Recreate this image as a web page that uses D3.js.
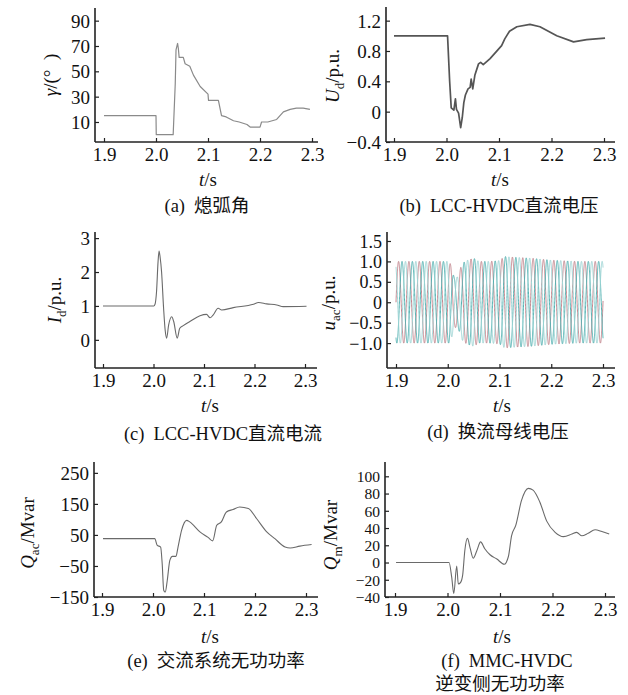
<!DOCTYPE html>
<html>
<head>
<meta charset="utf-8">
<script src="https://cdn.jsdelivr.net/npm/d3@7"></script>
<style>
  body { margin: 0; background: #fff; }
  svg { display: block; }
  text { font-family: "Liberation Serif", "Times New Roman", "Noto Sans CJK SC", serif; fill: #111; }
</style>
</head>
<body>
<div id="wrapper"></div>
<script>
// 1. Data
const xTicks = [1.9, 2.0, 2.1, 2.2, 2.3]

// (a) extinction angle
const gammaTime = [1.9, 2.0, 2.0005, 2.033, 2.0345, 2.037, 2.0385, 2.0415, 2.043, 2.0445, 2.0525, 2.056, 2.065, 2.072, 2.085, 2.1, 2.101, 2.12, 2.126, 2.135, 2.149, 2.16, 2.175, 2.181, 2.2, 2.203, 2.215, 2.232, 2.245, 2.258, 2.27, 2.283, 2.296]
const gammaValue = [15, 15, 0, 0, 15, 40, 67, 72, 68, 61, 61, 56, 54, 47, 38, 32, 27, 27, 15, 14, 11, 10, 8, 6, 6, 10, 10, 12, 18, 20, 21, 21, 20]
const gammaTicks = [10, 30, 50, 70, 90]

// (b) LCC-HVDC dc voltage
const udTime = [1.9, 2.002, 2.006, 2.009, 2.014, 2.017, 2.019, 2.023, 2.027, 2.030, 2.033, 2.036, 2.041, 2.045, 2.047, 2.050, 2.054, 2.061, 2.065, 2.070, 2.083, 2.105, 2.111, 2.120, 2.134, 2.159, 2.178, 2.210, 2.242, 2.267, 2.302]
const udValue = [1.0, 1.0, 0.4, 0.05, 0.02, 0.17, 0.03, -0.02, -0.21, -0.08, 0.12, 0.22, 0.3, 0.32, 0.43, 0.30, 0.48, 0.63, 0.65, 0.62, 0.70, 0.87, 0.96, 1.06, 1.12, 1.15, 1.12, 1.0, 0.92, 0.95, 0.97]
const udTicks = [-0.4, 0, 0.4, 0.8, 1.2]

// (c) LCC-HVDC dc current
const idTime = [1.9, 2.0006, 2.003, 2.006, 2.009, 2.011, 2.013, 2.016, 2.020, 2.023, 2.026, 2.030, 2.036, 2.040, 2.047, 2.052, 2.059, 2.072, 2.092, 2.105, 2.112, 2.118, 2.128, 2.135, 2.158, 2.198, 2.208, 2.224, 2.244, 2.257, 2.303]
const idValue = [1.0, 1.0, 1.05, 1.42, 2.3, 2.62, 2.45, 2.0, 0.93, 0.3, 0.05, 0.44, 0.68, 0.54, 0.05, 0.34, 0.42, 0.54, 0.71, 0.75, 0.65, 0.73, 0.93, 0.88, 0.95, 1.05, 1.10, 1.06, 1.03, 0.98, 0.99]
const idTicks = [0, 1, 2, 3]

// (d) commutation bus voltage: amplitude envelope of the three phases
const uacEnvTime = [1.9, 2.003, 2.008, 2.012, 2.02, 2.025, 2.03, 2.04, 2.05, 2.06, 2.08, 2.1, 2.11, 2.13, 2.16, 2.2, 2.25, 2.3]
const uacEnvAmp = [1.0, 1.0, 0.85, 0.62, 0.62, 0.85, 0.97, 1.04, 1.08, 1.0, 1.0, 1.02, 1.12, 1.1, 1.08, 1.03, 1.0, 1.0]
const uacFreq = 50
const uacPhases = [0, -120, 120]
const uacTicks = [-1.0, -0.5, 0, 0.5, 1.0, 1.5]

// (e) ac system reactive power
const qacTime = [1.902, 2.0035, 2.008, 2.015, 2.018, 2.021, 2.024, 2.028, 2.033, 2.038, 2.045, 2.049, 2.056, 2.066, 2.072, 2.092, 2.108, 2.117, 2.125, 2.134, 2.144, 2.157, 2.170, 2.187, 2.203, 2.223, 2.239, 2.259, 2.269, 2.288, 2.311]
const qacValue = [38, 38, 17, 11, -42, -128, -134, -96, -32, -19, -19, 10, 65, 97, 92, 60, 42, 31, 81, 92, 124, 132, 140, 135, 103, 60, 38, 11, 8, 14, 19]
const qacTicks = [-150, -50, 50, 150, 250]

// (f) MMC-HVDC inverter reactive power
const qmTime = [1.902, 2.003, 2.008, 2.012, 2.0175, 2.0206, 2.025, 2.029, 2.033, 2.038, 2.043, 2.049, 2.056, 2.063, 2.071, 2.081, 2.094, 2.108, 2.116, 2.122, 2.130, 2.141, 2.154, 2.163, 2.176, 2.189, 2.205, 2.221, 2.237, 2.246, 2.256, 2.268, 2.281, 2.294, 2.308]
const qmValue = [0, 0, -17, -36, -4, -25, -23, -14, 14, 28, 17, 5, 14, 24, 16, 9, 4, -2, 7, 31, 43, 72, 86, 84, 70, 48, 35, 30, 33, 35, 31, 34, 38, 36, 33]
const qmTicks = [-40, -20, 0, 20, 40, 60, 80, 100]

// 2. Dimensions
const width = 628
const height = 695

const svg = d3.select("#wrapper")
  .append("svg")
  .attr("width", width)
  .attr("height", height)

const fmtInt = d => (d < 0 ? "\u2212" : "") + Math.abs(d)
const fmtOne = d => d === 0 ? "0" : (d < 0 ? "\u2212" : "") + d3.format(".1f")(Math.abs(d))

// 3. Panel layout
const panels = [
  {
    time: gammaTime, value: gammaValue, ticks: gammaTicks, fmt: fmtInt, tickFont: 19,
    axisX: 95, top: 8, bottom: 142, x19: 104, x23: 312, xEnd: 318, yDomain: [-5.8, 100],
    curve: d3.curveLinear, color: "#8a8a8a", width: 1.2,
    yLab: { x: 57, y: 75, sym: "γ", sub: "", rest: "/(°\u2002)" },
    xLab: { x: 208, y: 186 },
    caption: { x: 207, y: 212, tag: "(a)", text: "熄弧角" },
  },
  {
    time: udTime, value: udValue, ticks: udTicks, fmt: fmtOne, tickFont: 19,
    axisX: 386, top: 7, bottom: 142, x19: 394, x23: 604, xEnd: 615, yDomain: [-0.4, 1.38],
    curve: d3.curveLinear, color: "#555", width: 1.7,
    yLab: { x: 339, y: 76, sym: "U", sub: "d", rest: "/p.u." },
    xLab: { x: 500, y: 186 },
    caption: { x: 499, y: 212, tag: "(b)", text: "LCC-HVDC直流电压" },
  },
  {
    time: idTime, value: idValue, ticks: idTicks, fmt: fmtInt, tickFont: 19,
    axisX: 95, top: 232, bottom: 368, x19: 103, x23: 305, xEnd: 317, yDomain: [-0.83, 3.18],
    curve: d3.curveMonotoneX, color: "#6a6a6a", width: 1.1,
    yLab: { x: 61, y: 300, sym: "I", sub: "d", rest: "/p.u." },
    xLab: { x: 210, y: 412 },
    caption: { x: 223, y: 440, tag: "(c)", text: "LCC-HVDC直流电流" },
  },
  {
    time: null, value: null, ticks: uacTicks, fmt: fmtOne, tickFont: 18,
    axisX: 387, top: 232, bottom: 368, x19: 396, x23: 603, xEnd: 615, yDomain: [-1.61, 1.72],
    yLab: { x: 335, y: 303, sym: "u", sub: "ac", rest: "/p.u." },
    xLab: { x: 502, y: 412 },
    caption: { x: 498, y: 438, tag: "(d)", text: "换流母线电压" },
  },
  {
    time: qacTime, value: qacValue, ticks: qacTicks, fmt: fmtInt, tickFont: 19,
    axisX: 94, top: 462, bottom: 597, x19: 102, x23: 306, xEnd: 318, yDomain: [-150, 285],
    curve: d3.curveMonotoneX, color: "#6a6a6a", width: 1.1,
    yLab: { x: 34, y: 533, sym: "Q", sub: "ac", rest: "/Mvar" },
    xLab: { x: 210, y: 643 },
    caption: { x: 216, y: 667, tag: "(e)", text: "交流系统无功功率" },
  },
  {
    time: qmTime, value: qmValue, ticks: qmTicks, fmt: fmtInt, tickFont: 15.5,
    axisX: 385, top: 462, bottom: 597, x19: 395, x23: 605, xEnd: 615, yDomain: [-40, 116.6],
    curve: d3.curveMonotoneX, color: "#6a6a6a", width: 1.1,
    yLab: { x: 337, y: 535, sym: "Q", sub: "m", rest: "/Mvar" },
    xLab: { x: 502, y: 643 },
    caption: { x: 507, y: 667, tag: "(f)", text: "MMC-HVDC", line2: "逆变侧无功功率" },
  },
]

// 4. Draw
panels.forEach(p => {
  const x = d3.scaleLinear().domain([1.9, 2.3]).range([p.x19, p.x23])
  const y = d3.scaleLinear().domain(p.yDomain).range([p.bottom, p.top])
  const g = svg.append("g")

  // data
  if (p.time) {
    const line = d3.line()
      .x(d => x(d[0]))
      .y(d => y(d[1]))
      .curve(p.curve)
    g.append("path")
      .datum(d3.zip(p.time, p.value))
      .attr("fill", "none")
      .attr("stroke", p.color)
      .attr("stroke-width", p.width)
      .attr("stroke-linejoin", "round")
      .attr("d", line)
  } else {
    const env = d3.scaleLinear().domain(uacEnvTime).range(uacEnvAmp).clamp(true)
    const ts = d3.range(1.9, 2.3001, 0.0001)
    const colors = ["#c4868e", "#52b2b2", "#9fd6d6"]
    const line = d3.line().x(d => x(d[0])).y(d => y(d[1]))
    uacPhases.forEach((ph, i) => {
      const pts = ts.map(t => [t, env(t) * Math.sin(2 * Math.PI * uacFreq * t + ph * Math.PI / 180)])
      g.append("path")
        .datum(pts)
        .attr("fill", "none")
        .attr("stroke", colors[i])
        .attr("stroke-width", 1)
        .attr("d", line)
    })
  }

  // axes
  const xAxis = g.append("g")
    .attr("transform", `translate(0,${p.bottom})`)
    .call(d3.axisBottom(x).tickValues(xTicks).tickFormat(d3.format(".1f"))
      .tickSizeInner(-4).tickSizeOuter(0).tickPadding(6))
  const yAxis = g.append("g")
    .attr("transform", `translate(${p.axisX},0)`)
    .call(d3.axisLeft(y).tickValues(p.ticks).tickFormat(p.fmt)
      .tickSizeInner(-4).tickSizeOuter(0).tickPadding(5))
  ;[xAxis, yAxis].forEach(a => {
    a.attr("font-family", null)
    a.select(".domain").remove()
    a.selectAll(".tick line").attr("stroke", "#222").attr("stroke-width", 1.2)
  })
  xAxis.attr("font-size", 19)
  yAxis.attr("font-size", p.tickFont)
  yAxis.selectAll(".tick text").attr("dy", "0.34em")

  g.append("line")
    .attr("x1", p.axisX).attr("x2", p.xEnd)
    .attr("y1", p.bottom).attr("y2", p.bottom)
    .attr("stroke", "#222").attr("stroke-width", 1.6)
  g.append("line")
    .attr("x1", p.axisX).attr("x2", p.axisX)
    .attr("y1", p.top).attr("y2", p.bottom)
    .attr("stroke", "#222").attr("stroke-width", 1.6)

  // y label
  const yl = g.append("text")
    .attr("transform", `translate(${p.yLab.x},${p.yLab.y}) rotate(-90)`)
    .attr("text-anchor", "middle")
    .attr("font-size", 19)
  yl.append("tspan").attr("font-style", "italic").text(p.yLab.sym)
  if (p.yLab.sub) {
    yl.append("tspan").attr("font-size", 13).attr("dy", 5).text(p.yLab.sub)
    yl.append("tspan").attr("dy", -5).text(p.yLab.rest)
  } else {
    yl.append("tspan").text(p.yLab.rest)
  }

  // x label
  const xl = g.append("text")
    .attr("x", p.xLab.x).attr("y", p.xLab.y)
    .attr("text-anchor", "middle")
    .attr("font-size", 19)
  xl.append("tspan").attr("font-style", "italic").text("t")
  xl.append("tspan").text("/s")

  // caption
  const cap = g.append("text")
    .attr("x", p.caption.x).attr("y", p.caption.y)
    .attr("text-anchor", "middle")
    .attr("font-size", 18.5)
  cap.append("tspan").text(p.caption.tag)
  cap.append("tspan").attr("dx", 9).text(p.caption.text)
  if (p.caption.line2) {
    g.append("text")
      .attr("x", 500).attr("y", p.caption.y + 23)
      .attr("text-anchor", "middle")
      .attr("font-size", 18.5)
      .text(p.caption.line2)
  }
})
</script>
</body>
</html>
